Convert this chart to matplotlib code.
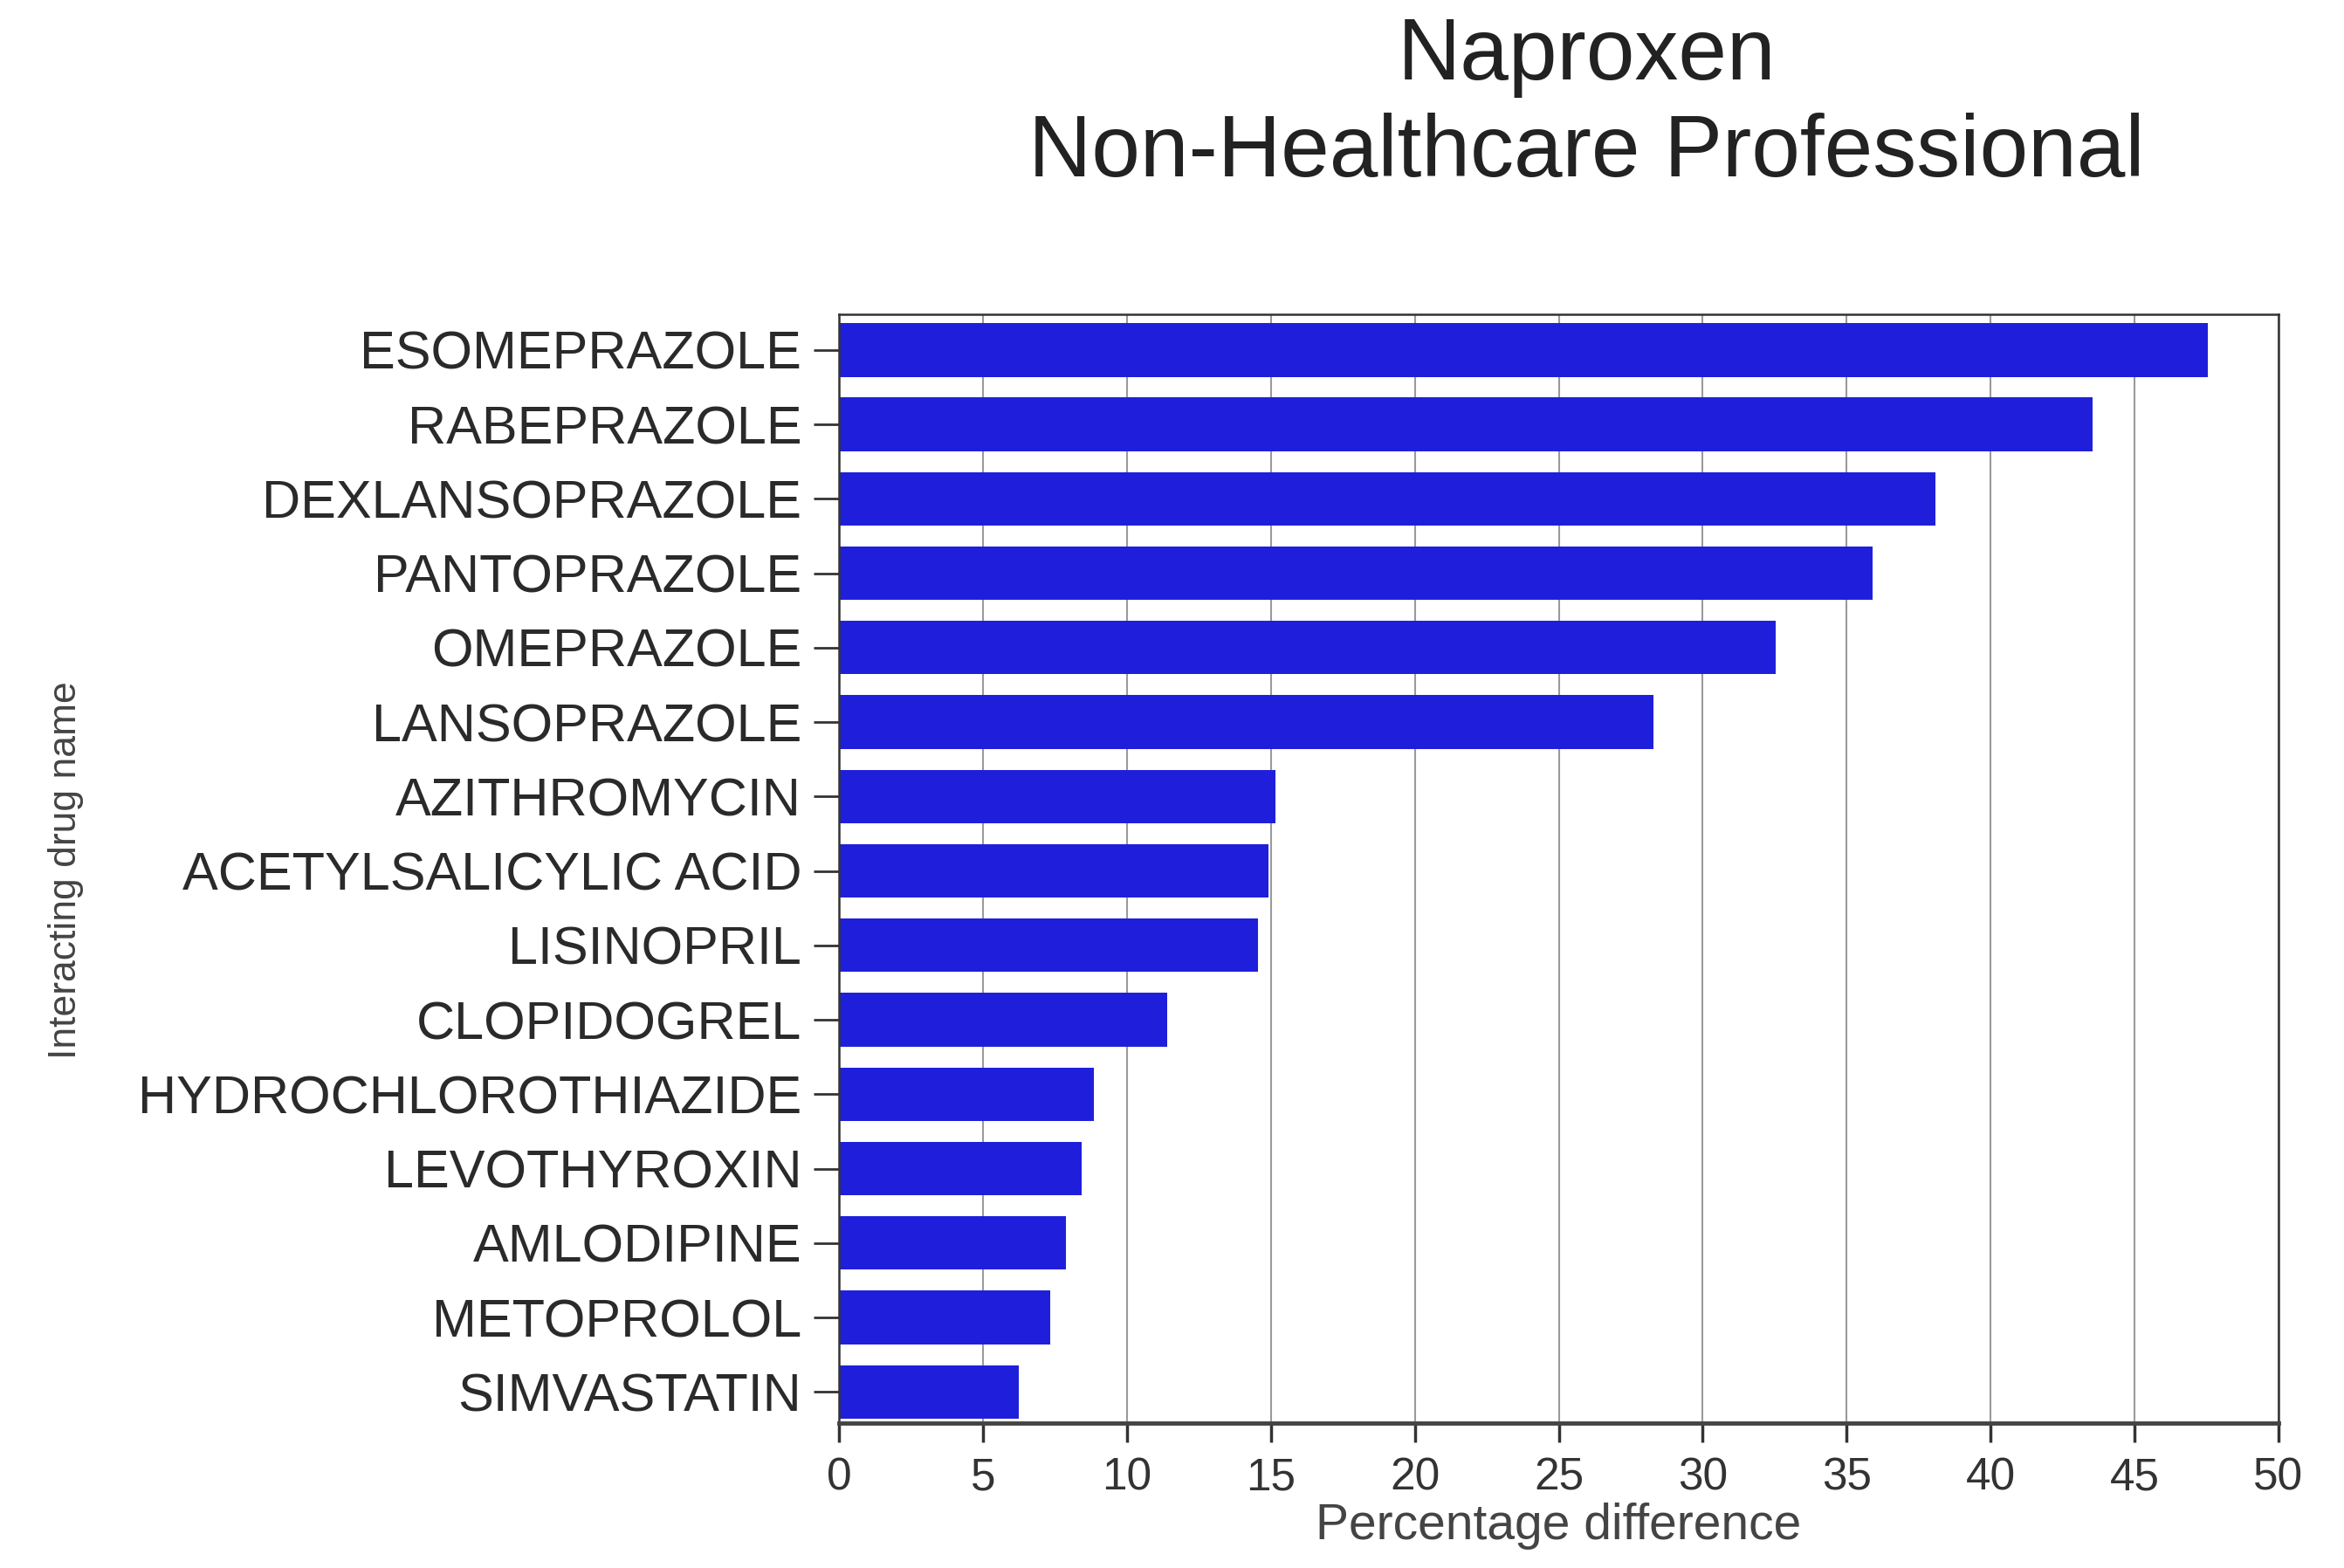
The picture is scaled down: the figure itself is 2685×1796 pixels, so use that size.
import matplotlib
matplotlib.use('Agg')
import matplotlib.pyplot as plt

# Data
drugs = ['ESOMEPRAZOLE', 'RABEPRAZOLE', 'DEXLANSOPRAZOLE', 'PANTOPRAZOLE',
         'OMEPRAZOLE', 'LANSOPRAZOLE', 'AZITHROMYCIN', 'ACETYLSALICYLIC ACID',
         'LISINOPRIL', 'CLOPIDOGREL', 'HYDROCHLOROTHIAZIDE', 'LEVOTHYROXIN',
         'AMLODIPINE', 'METOPROLOL', 'SIMVASTATIN']
pct_diff = [47.55, 43.55, 38.1, 35.9, 32.55, 28.3, 15.17, 14.9,
            14.54, 11.4, 8.84, 8.43, 7.89, 7.34, 6.24]
x_ticks = list(range(0, 51, 5))

plt.rcParams['font.family'] = ['Liberation Sans', 'DejaVu Sans']

fig = plt.figure(figsize=(26.85, 17.96), dpi=100)
ax = fig.add_axes([0.358, 0.0924, 0.614, 0.7072])

ypos = list(range(len(drugs)))
ax.barh(ypos, pct_diff, height=0.72, color='#1f1fdb', zorder=2)

ax.set_xlim(0, 50)
ax.set_ylim(14.42, -0.48)
ax.set_xticks(x_ticks)
ax.set_yticks(ypos)
ax.set_yticklabels(drugs)

# vertical grid lines behind the bars
ax.xaxis.grid(True, color='#9a9a9a', lw=1.5)
ax.set_axisbelow(True)

ax.tick_params(axis='y', length=21, width=2, pad=10, labelsize=44,
               labelcolor='#2a2a2a', color='#333333')
ax.tick_params(axis='x', length=16, width=2.5, pad=12, labelsize=37,
               labelcolor='#333333', color='#333333')

for side in ['left', 'right', 'top']:
    ax.spines[side].set_linewidth(1.8)
    ax.spines[side].set_color('#333333')
ax.spines['bottom'].set_linewidth(3.5)
ax.spines['bottom'].set_color('#444444')

# axis titles
fig.text(0.665, 0.027, 'Percentage difference', ha='center', va='center',
         fontsize=41, color='#444444')
fig.text(0.028, 0.445, 'Interacting drug name', rotation=90, ha='center',
         va='center', fontsize=32, color='#444444')

# title
fig.text(0.677, 1 - 65 / 1796, 'Naproxen', ha='center', va='center',
         fontsize=72, color='#222222')
fig.text(0.677, 1 - 176 / 1796, 'Non-Healthcare Professional', ha='center',
         va='center', fontsize=72, color='#222222')

fig.savefig('out.png', dpi=100)
